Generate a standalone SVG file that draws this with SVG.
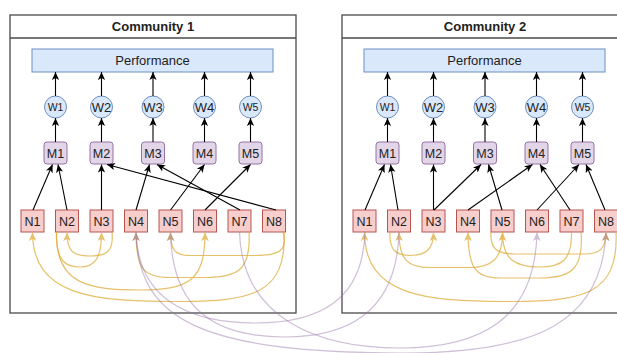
<svg xmlns="http://www.w3.org/2000/svg" width="617" height="353" viewBox="0 0 617 353">
<style>
text{font-family:"Liberation Sans",Arial,sans-serif;fill:#222;text-anchor:middle}
.ttl{font-size:13px;font-weight:bold}
.lbl{font-size:12.5px}
.big{font-size:13px}
.sm{font-size:10.5px}
.box{fill:#fff;stroke:#4a4a4a;stroke-width:1.3}
.perf{fill:#dae8fc;stroke:#6c8ebf;stroke-width:1}
.w{fill:#dae8fc;stroke:#6c8ebf;stroke-width:1}
.m{fill:#e1d5e7;stroke:#9673a6;stroke-width:1}
.n{fill:#f8cecc;stroke:#b85450;stroke-width:1}
.e{fill:none;stroke:#000;stroke-width:1.1;marker-end:url(#ab)}
.y{fill:none;stroke:#e0b040;stroke-width:1.2;opacity:0.78;marker-end:url(#ay)}
.p{fill:none;stroke:#9673a6;stroke-width:1.2;opacity:0.45;marker-end:url(#ap)}
</style>
<defs>
<marker id="ab" viewBox="0 0 10 10" refX="10" refY="5" markerWidth="8" markerHeight="8" markerUnits="userSpaceOnUse" orient="auto"><path d="M0,0.5 L10,5 L0,9.5 L2.5,5 z" fill="#000"/></marker>
<marker id="ay" viewBox="0 0 10 10" refX="10" refY="5" markerWidth="8.5" markerHeight="8.5" markerUnits="userSpaceOnUse" orient="auto"><path d="M0,0.5 L10,5 L0,9.5 L2.5,5 z" fill="#e0b040"/></marker>
<marker id="ap" viewBox="0 0 10 10" refX="10" refY="5" markerWidth="8.5" markerHeight="8.5" markerUnits="userSpaceOnUse" orient="auto"><path d="M0,0.5 L10,5 L0,9.5 L2.5,5 z" fill="#9673a6"/></marker>
</defs>
<rect width="617" height="353" fill="#fff"/>

<g id="community1">
<rect class="box" x="10" y="15" width="286" height="298"/>
<line x1="10" y1="38" x2="296" y2="38" stroke="#4a4a4a" stroke-width="1.3"/>
<text class="ttl" x="153" y="31">Community 1</text>
</g>
<g id="community2">
<rect class="box" x="342" y="15" width="286" height="298"/>
<line x1="342" y1="38" x2="628" y2="38" stroke="#4a4a4a" stroke-width="1.3"/>
<text class="ttl" x="485" y="31">Community 2</text>
</g>

<g id="c1-performance"><rect class="perf" x="32" y="49" width="241" height="23"/><text class="big" x="152.5" y="65">Performance</text></g>
<g id="c1-w1"><circle class="w" cx="55.5" cy="107" r="11"/><text class="sm" x="55.5" y="111">W1</text></g>
<g id="c1-w2"><circle class="w" cx="101.5" cy="107" r="11"/><text class="big" x="101.5" y="111.5">W2</text></g>
<g id="c1-w3"><circle class="w" cx="153" cy="107" r="11"/><text class="big" x="153" y="111.5">W3</text></g>
<g id="c1-w4"><circle class="w" cx="204.5" cy="107" r="11"/><text class="big" x="204.5" y="111.5">W4</text></g>
<g id="c1-w5"><circle class="w" cx="250.5" cy="107" r="11"/><text class="sm" x="250.5" y="111">W5</text></g>
<g id="c1-m1"><rect class="m" x="44" y="142" width="23" height="22" rx="3"/><text class="lbl" x="55.5" y="157.5">M1</text></g>
<g id="c1-m2"><rect class="m" x="90" y="142" width="23" height="22" rx="3"/><text class="lbl" x="101.5" y="157.5">M2</text></g>
<g id="c1-m3"><rect class="m" x="141.5" y="142" width="23" height="22" rx="3"/><text class="lbl" x="153" y="157.5">M3</text></g>
<g id="c1-m4"><rect class="m" x="193" y="142" width="23" height="22" rx="3"/><text class="lbl" x="204.5" y="157.5">M4</text></g>
<g id="c1-m5"><rect class="m" x="239" y="142" width="23" height="22" rx="3"/><text class="lbl" x="250.5" y="157.5">M5</text></g>
<g id="c1-n1"><rect class="n" x="21" y="210" width="23" height="22"/><text class="lbl" x="32.5" y="225.5">N1</text></g>
<g id="c1-n2"><rect class="n" x="55.5" y="210" width="23" height="22"/><text class="lbl" x="67" y="225.5">N2</text></g>
<g id="c1-n3"><rect class="n" x="90" y="210" width="23" height="22"/><text class="lbl" x="101.5" y="225.5">N3</text></g>
<g id="c1-n4"><rect class="n" x="124.5" y="210" width="23" height="22"/><text class="lbl" x="136" y="225.5">N4</text></g>
<g id="c1-n5"><rect class="n" x="159" y="210" width="23" height="22"/><text class="lbl" x="170.5" y="225.5">N5</text></g>
<g id="c1-n6"><rect class="n" x="193.5" y="210" width="23" height="22"/><text class="lbl" x="205" y="225.5">N6</text></g>
<g id="c1-n7"><rect class="n" x="228" y="210" width="23" height="22"/><text class="lbl" x="239.5" y="225.5">N7</text></g>
<g id="c1-n8"><rect class="n" x="262.5" y="210" width="23" height="22"/><text class="lbl" x="274" y="225.5">N8</text></g>

<g id="c2-performance"><rect class="perf" x="364" y="49" width="241" height="23"/><text class="big" x="484.5" y="65">Performance</text></g>
<g id="c2-w1"><circle class="w" cx="387.5" cy="107" r="11"/><text class="sm" x="387.5" y="111">W1</text></g>
<g id="c2-w2"><circle class="w" cx="433.5" cy="107" r="11"/><text class="big" x="433.5" y="111.5">W2</text></g>
<g id="c2-w3"><circle class="w" cx="485" cy="107" r="11"/><text class="big" x="485" y="111.5">W3</text></g>
<g id="c2-w4"><circle class="w" cx="536.5" cy="107" r="11"/><text class="big" x="536.5" y="111.5">W4</text></g>
<g id="c2-w5"><circle class="w" cx="582.5" cy="107" r="11"/><text class="sm" x="582.5" y="111">W5</text></g>
<g id="c2-m1"><rect class="m" x="376" y="142" width="23" height="22" rx="3"/><text class="lbl" x="387.5" y="157.5">M1</text></g>
<g id="c2-m2"><rect class="m" x="422" y="142" width="23" height="22" rx="3"/><text class="lbl" x="433.5" y="157.5">M2</text></g>
<g id="c2-m3"><rect class="m" x="473.5" y="142" width="23" height="22" rx="3"/><text class="lbl" x="485" y="157.5">M3</text></g>
<g id="c2-m4"><rect class="m" x="525" y="142" width="23" height="22" rx="3"/><text class="lbl" x="536.5" y="157.5">M4</text></g>
<g id="c2-m5"><rect class="m" x="571" y="142" width="23" height="22" rx="3"/><text class="lbl" x="582.5" y="157.5">M5</text></g>
<g id="c2-n1"><rect class="n" x="353" y="210" width="23" height="22"/><text class="lbl" x="364.5" y="225.5">N1</text></g>
<g id="c2-n2"><rect class="n" x="387.5" y="210" width="23" height="22"/><text class="lbl" x="399" y="225.5">N2</text></g>
<g id="c2-n3"><rect class="n" x="422" y="210" width="23" height="22"/><text class="lbl" x="433.5" y="225.5">N3</text></g>
<g id="c2-n4"><rect class="n" x="456.5" y="210" width="23" height="22"/><text class="lbl" x="468" y="225.5">N4</text></g>
<g id="c2-n5"><rect class="n" x="491" y="210" width="23" height="22"/><text class="lbl" x="502.5" y="225.5">N5</text></g>
<g id="c2-n6"><rect class="n" x="525.5" y="210" width="23" height="22"/><text class="lbl" x="537" y="225.5">N6</text></g>
<g id="c2-n7"><rect class="n" x="560" y="210" width="23" height="22"/><text class="lbl" x="571.5" y="225.5">N7</text></g>
<g id="c2-n8"><rect class="n" x="594.5" y="210" width="23" height="22"/><text class="lbl" x="606" y="225.5">N8</text></g>

<g id="connectors">
<path class="e" d="M55.5,96 V72"/><path class="e" d="M101.5,96 V72"/><path class="e" d="M153,96 V72"/><path class="e" d="M204.5,96 V72"/><path class="e" d="M250.5,96 V72"/>
<path class="e" d="M55.5,142 V118"/><path class="e" d="M101.5,142 V118"/><path class="e" d="M153,142 V118"/><path class="e" d="M204.5,142 V118"/><path class="e" d="M250.5,142 V118"/>
<path class="e" d="M33,210 L52.5,164.5"/>
<path class="e" d="M67,210 L58,164.5"/>
<path class="e" d="M101.5,210 V164.5"/>
<path class="e" d="M276,210 L107,164.5"/>
<path class="e" d="M136,210 L149.5,164.5"/>
<path class="e" d="M240,210 L157,164.5"/>
<path class="e" d="M170.5,210 L204.5,164.5"/>
<path class="e" d="M205,210 L250.5,164.5"/>
<path class="e" d="M387.5,96 V72"/><path class="e" d="M433.5,96 V72"/><path class="e" d="M485,96 V72"/><path class="e" d="M536.5,96 V72"/><path class="e" d="M582.5,96 V72"/>
<path class="e" d="M387.5,142 V118"/><path class="e" d="M433.5,142 V118"/><path class="e" d="M485,142 V118"/><path class="e" d="M536.5,142 V118"/><path class="e" d="M582.5,142 V118"/>
<path class="e" d="M365,210 L384.5,164.5"/>
<path class="e" d="M398,210 L390.5,164.5"/>
<path class="e" d="M433.5,210 V164.5"/>
<path class="e" d="M434,210 L481,164.5"/>
<path class="e" d="M502,210 L488.5,164.5"/>
<path class="e" d="M468,210 L532.5,164.5"/>
<path class="e" d="M570,210 L540,164.5"/>
<path class="e" d="M537,210 L579,164.5"/>
<path class="e" d="M605,210 L586,164.5"/>
<path class="y" d="M284,232 C287,295 250,301 180,301.5 C90,302 33,295 32.5,232.5"/>
<path class="y" d="M56.5,232 C55,285 90,290 140,290 C190,290 205,280 205,232.5"/>
<path class="y" d="M112,232 C114,252 106,256 90,256 C72,256 67,250 67,232.5"/>
<path class="y" d="M56.5,232 C56,262 66,267 80,267 C95,267 101.5,258 101.5,232.5"/>
<path class="y" d="M249,232 C251,270 238,277.5 205,277.5 L170,277.5 C143,277.5 136,268 136,232.5"/>
<path class="y" d="M283,232 C288,250 280,255.5 255,255.5 L190,255.5 C175,255.5 170.5,250 170.5,232.5"/>
<path class="y" d="M616,232 C619,295 582,301 512,301.5 C422,302 365,295 364.5,232.5"/>
<path class="y" d="M390,232 C389,250 396,255.5 410,255.5 C425,255.5 433.5,250 433.5,232.5"/>
<path class="y" d="M502.5,232 C503,260 490,267.5 470,267.5 L430,267.5 C408,267.5 399,260 399,232.5"/>
<path class="y" d="M491,232 C490,248 496,254 515,254 L585,254 C600,254 606,248 606,232.5"/>
<path class="y" d="M571.5,232 C572,260 562,267 540,267 C515,267 502.5,260 502.5,232.5"/>
<path class="y" d="M581,232 C584,270 570,278 540,278 L500,278 C476,278 468,268 468,232.5"/>
<path class="p" d="M365,232 C363,300 320,323 255,323 C190,323 138,300 136,232.5"/>
<path class="p" d="M399,232 C397,310 350,337 285,337 C215,337 172,310 170.5,232.5"/>
<path class="p" d="M136,232 C138,320 200,352 400,353 C540,354 602,320 606,232.5"/>
<path class="p" d="M239.5,232 C242,320 320,348 400,348 C480,348 535,320 537,232.5"/>
</g>
</svg>
